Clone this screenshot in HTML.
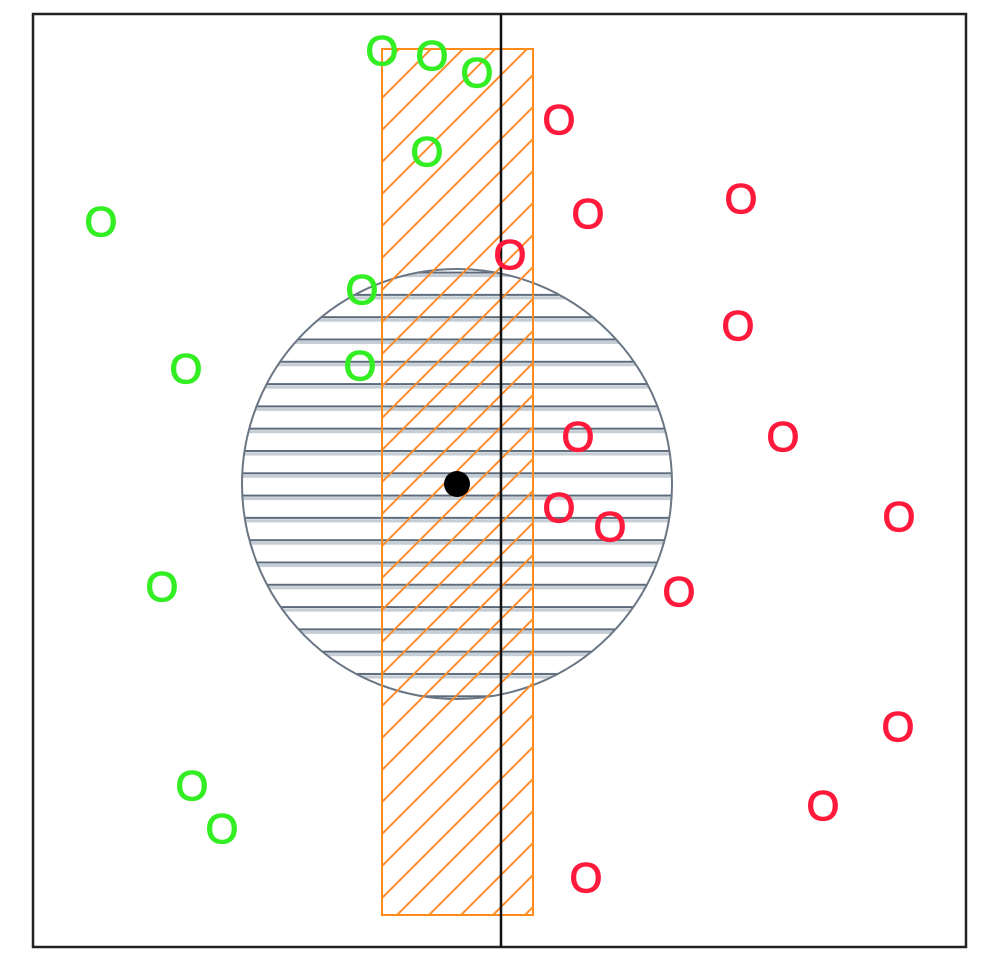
<!DOCTYPE html>
<html><head><meta charset="utf-8"><style>
html,body{margin:0;padding:0;background:#fff;}
svg{display:block;}
text{font-family:"Liberation Sans",sans-serif;}
</style></head><body>
<svg id="chart" width="986" height="974" viewBox="0 0 986 974" xmlns="http://www.w3.org/2000/svg">
<defs>
<pattern id="hHatch" patternUnits="userSpaceOnUse" width="10" height="22.3">
<line x1="0" y1="5" x2="10" y2="5" stroke="#5a6a7a" stroke-width="2"/>
<line x1="0" y1="8" x2="10" y2="8" stroke="#c4ccd4" stroke-width="3"/>
</pattern>
<pattern id="dHatch" patternUnits="userSpaceOnUse" width="32" height="32">
<line x1="-5" y1="37" x2="37" y2="-5" stroke="#ff8c2a" stroke-width="2"/>
<line x1="-21" y1="21" x2="21" y2="-21" stroke="#ff8c2a" stroke-width="2"/>
<line x1="11" y1="53" x2="53" y2="11" stroke="#ff8c2a" stroke-width="2"/>
</pattern>
<clipPath id="frameClip"><rect x="33" y="14" width="933" height="933"/></clipPath>
</defs>
<rect x="33" y="14" width="933" height="933" fill="#fff" stroke="#222" stroke-width="2.5"/>
<g id="marks" clip-path="url(#frameClip)"></g>
</svg>
<script>
// data coordinates: domain 0..933 both axes
const greenX = [349, 399, 444, 394, 68, 329, 153, 327, 129, 159, 189];
const greenY = [897, 892, 875, 796, 726, 658, 579, 582, 361, 162, 119];
const redX = [526, 555, 708, 477, 705, 545, 750, 526, 577, 866, 646, 865, 790, 553];
const redY = [828, 734, 749, 693, 622, 511, 511, 440, 421, 431, 356, 221, 142, 70];
const circleCenter = [424, 463];
const circleRadius = [215];
const bandX = [349, 500];
const bandY = [32, 898];
const dividerX = [468];

const X0 = 33, Y0 = 947;
function xs(v){ return X0 + v; }
function ys(v){ return Y0 - v; }

const NS = "http://www.w3.org/2000/svg";
const g = document.getElementById('marks');
function mk(tag, attrs){ const e = document.createElementNS(NS, tag); for (const k in attrs) e.setAttribute(k, attrs[k]); g.appendChild(e); return e; }

let c = mk('circle', {cx: xs(circleCenter[0]), cy: ys(circleCenter[1]), r: circleRadius[0], fill: 'url(#hHatch)', stroke: '#6a7684', 'stroke-width': 2});



let r = mk('rect', {x: xs(bandX[0]), y: ys(bandY[1]), width: xs(bandX[1]) - xs(bandX[0]), height: ys(bandY[0]) - ys(bandY[1]), fill: 'url(#dHatch)', stroke: '#ff8c1a', 'stroke-width': 2});



let l = mk('line', {x1: xs(dividerX[0]), x2: xs(dividerX[0]), y1: 14, y2: 947, stroke: '#111', 'stroke-width': 2.5});



let d = mk('circle', {cx: xs(circleCenter[0]), cy: ys(circleCenter[1]), r: 13, fill: '#000'});



function addPoints(xsArr, ysArr, color, name){
  for (let i = 0; i < xsArr.length; i++){
    const t = mk('text', {x: xs(xsArr[i]), y: ys(ysArr[i]) + 15, fill: color, stroke: color, 'stroke-width': 1.2, 'font-size': 42, 'text-anchor': 'middle'});
    t.textContent = 'O';
    
    
  }
}
addPoints(greenX, greenY, '#33ee22', 'green-point');
addPoints(redX, redY, '#ff1a3c', 'red-point');
</script>
</body></html>
